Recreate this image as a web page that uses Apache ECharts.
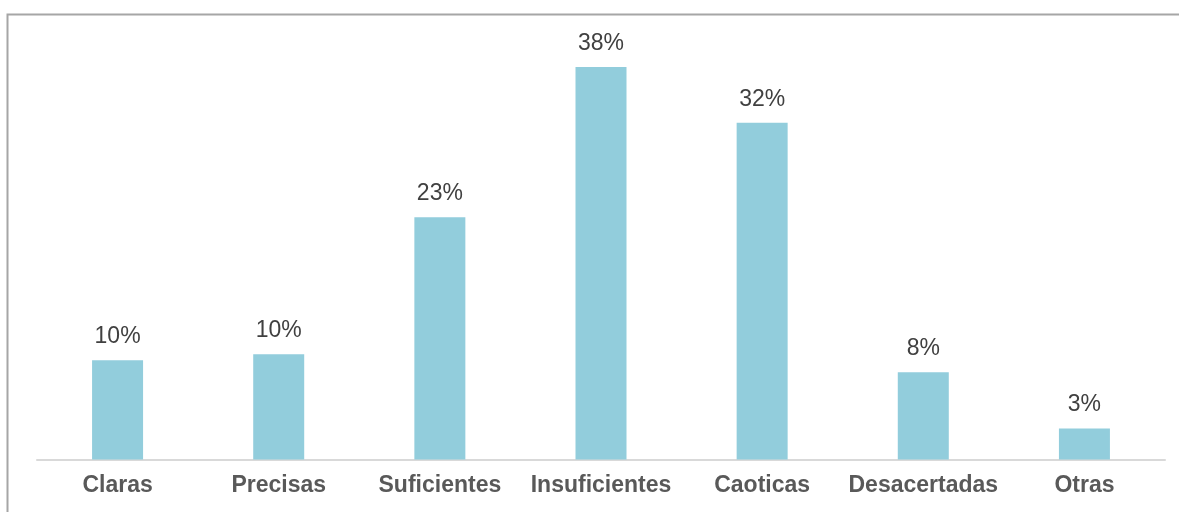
<!DOCTYPE html>
<html>
<head>
<meta charset="utf-8">
<script src="https://cdn.jsdelivr.net/npm/echarts@6/dist/echarts.min.js"></script>
<style>
html,body{margin:0;padding:0;background:#fff;}
#chart{width:1179px;height:512px;}
</style>
</head>
<body>
<div id="chart"></div>
<script>
const categories = ['Claras', 'Precisas', 'Suficientes', 'Insuficientes', 'Caoticas', 'Desacertadas', 'Otras'];
const values = [9.6, 10.2, 23.45, 38.0, 32.6, 8.45, 3.0];
const labels = ['10%', '10%', '23%', '38%', '32%', '8%', '3%'];

const chart = echarts.init(document.getElementById('chart'), null, {renderer: 'canvas'});
chart.setOption({
  animation: false,
  backgroundColor: '#ffffff',
  graphic: [{
    type: 'rect',
    shape: {x: 7.5, y: 14.5, width: 1200, height: 600},
    style: {fill: 'none', stroke: '#a6a6a6', lineWidth: 2},
    silent: true
  }],
  grid: {left: 37, right: 14, top: 46.3, bottom: 52.5, containLabel: false},
  xAxis: {
    type: 'category',
    data: categories,
    axisLine: {lineStyle: {color: '#d9d9d9', width: 2}},
    axisTick: {show: false},
    axisLabel: {
      interval: 0,
      margin: 15,
      fontFamily: 'Liberation Sans, Arial, sans-serif',
      fontSize: 23,
      fontWeight: 'bold',
      color: '#595959'
    }
  },
  yAxis: {
    type: 'value',
    min: 0,
    max: 40,
    show: false,
    splitLine: {show: false}
  },
  series: [{
    type: 'bar',
    data: values,
    barWidth: 51,
    itemStyle: {color: '#92cddc'},
    label: {
      show: true,
      position: 'top',
      distance: 12,
      fontFamily: 'Liberation Sans, Arial, sans-serif',
      fontSize: 23,
      color: '#404040',
      formatter: p => labels[p.dataIndex]
    }
  }]
});
</script>
</body>
</html>
